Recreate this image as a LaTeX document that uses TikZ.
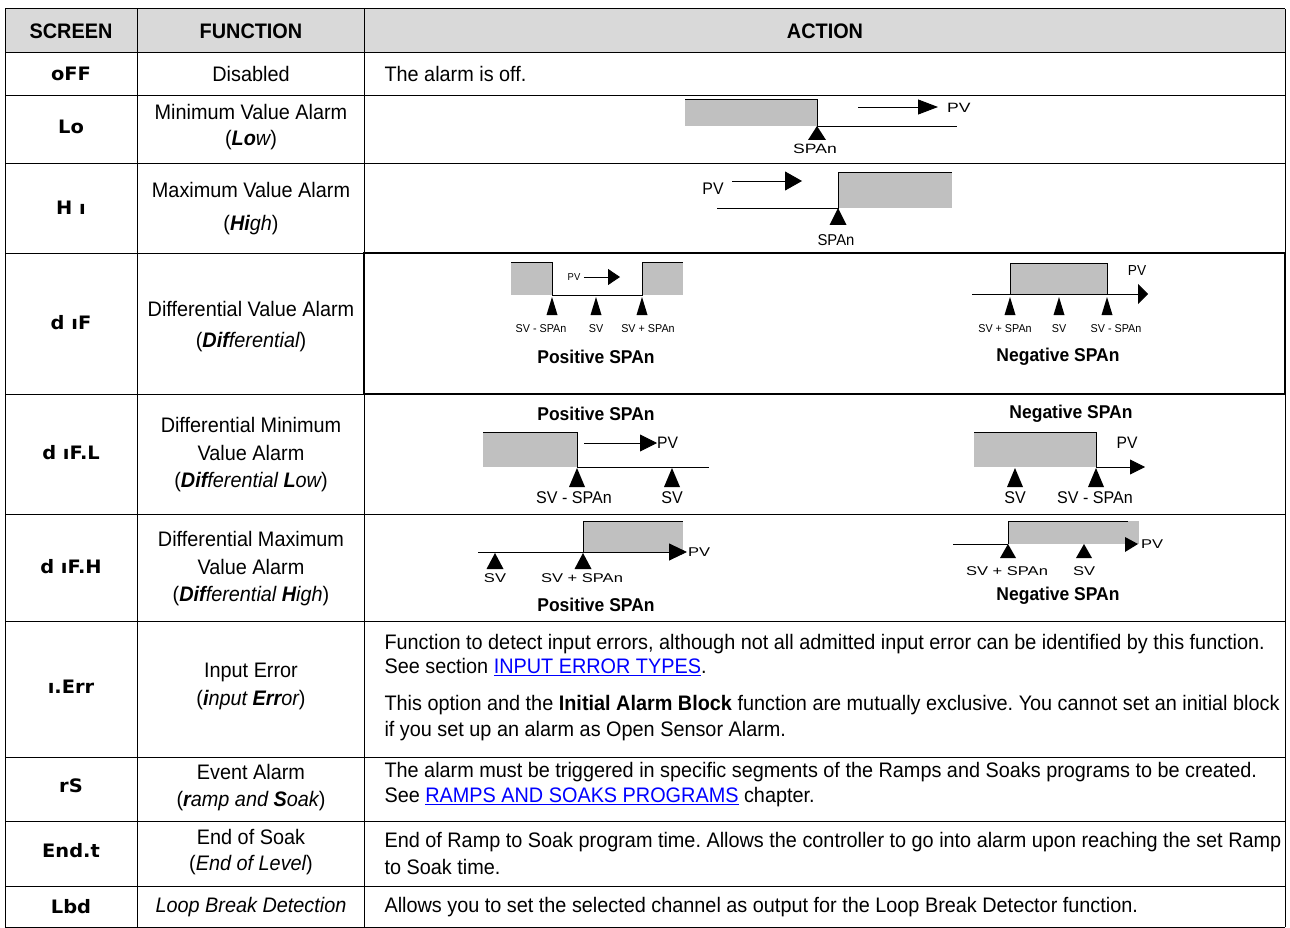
\documentclass[tikz,border=0pt]{standalone}
\usepackage{fontspec}
\setmainfont{Liberation Sans}[FakeStretch=0.945]
\newfontfamily\wider{Liberation Sans}[FakeStretch=1.3]
\newfontfamily\seg{DejaVu Sans}[FakeStretch=1.05]
\usetikzlibrary{arrows.meta}
\definecolor{hdr}{HTML}{D9D9D9}
\definecolor{gr}{HTML}{C0C0C0}
\definecolor{lnk}{HTML}{0000FF}
\frenchspacing
\newcommand\bodyf{\fontsize{21}{24}\selectfont}
\newcommand\fs[1]{\fontsize{#1}{#1}\selectfont}
\newcommand\mkr[4]{\fill (#1,#2) -- ++(-#3/2,#4) -- ++(#3,0) -- cycle;}
\newcommand\lk[1]{\textcolor{lnk}{\underline{#1}}}
\newcommand\bi[1]{{\bfseries\itshape #1}}
\newcommand\ii[1]{{\itshape #1}}
\begin{document}
\begin{tikzpicture}[x=1pt,y=-1pt,
  grid/.style={line width=1pt},
  dl/.style={line width=0.9pt},
  hd/.style={font=\bodyf\bfseries},
  scr/.style={font=\seg\fs{18.5}\bfseries},
  fn/.style={font=\bodyf},
  ac/.style={font=\bodyf,anchor=west},
  lb/.style={font=\fs{11.4}},
  lbw/.style={font=\wider\fs{12.7}},
  lbm/.style={font=\fs{17}},
  sp/.style={font=\fs{18.5}\bfseries},
]
\useasboundingbox (0,0) rectangle (1290,928);
\fill[white] (0,0) rectangle (1290,928);
% header
\fill[hdr] (5,9) rectangle (1285,53);
\node[hd] (h1) at (71,31) {SCREEN};
\node[hd] (h2) at (251,31) {FUNCTION};
\node[hd] (h3) at (825,31) {ACTION};
% grid
\foreach \yy in {9,53,96,164,253,394,514,621,757,821,886,927}
  \draw[grid] (5,\yy) -- (1285,\yy);
\foreach \xx in {5,137,364,1285}
  \draw[grid] (\xx,9) -- (\xx,927);
\draw[line width=2.2pt] (364,253) rectangle (1285,394);
% screen column
\node[scr] (s1) at (71,74) {oFF};
\node[scr] (s2) at (71,127) {Lo};
\node[scr] (s3) at (71,208) {H ı};
\node[scr] (s4) at (71,323) {d ıF};
\node[scr] (s5) at (71,453) {d ıF.L};
\node[scr] (s6) at (71,567) {d ıF.H};
\node[scr] (s7) at (71,687) {ı.Err};
\node[scr] (s8) at (71,786) {rS};
\node[scr] (s9) at (71,851) {End.t};
\node[scr] (s10) at (71,907) {Lbd};
% function column
\node[fn] (f1) at (251,74) {Disabled};
\node[fn] (f2a) at (251,112) {Minimum Value Alarm};
\node[fn] (f2b) at (251,140) {(\bi{Lo}\ii{w})};
\node[fn] (f3a) at (251,190) {Maximum Value Alarm};
\node[fn] (f3b) at (251,225) {(\bi{Hi}\ii{gh})};
\node[fn] (f4a) at (251,309) {Differential Value Alarm};
\node[fn] (f4b) at (251,342) {(\bi{Dif}\ii{ferential})};
\node[fn] (f5a) at (251,425) {Differential Minimum};
\node[fn] (f5b) at (251,453) {Value Alarm};
\node[fn] (f5c) at (251,482) {(\bi{Dif}\ii{ferential }\bi{L}\ii{ow})};
\node[fn] (f6a) at (251,539) {Differential Maximum};
\node[fn] (f6b) at (251,567) {Value Alarm};
\node[fn] (f6c) at (251,596) {(\bi{Dif}\ii{ferential }\bi{H}\ii{igh})};
\node[fn] (f7a) at (251,672) {Input Error};
\node[fn] (f7b) at (251,700) {(\bi{i}\ii{nput }\bi{Err}\ii{or})};
\node[fn] (f8a) at (251,772) {Event Alarm};
\node[fn] (f8b) at (251,801) {(\bi{r}\ii{amp and }\bi{S}\ii{oak})};
\node[fn] (f9a) at (251,837) {End of Soak};
\node[fn] (f9b) at (251,865) {(\ii{End of Level})};
\node[fn] (f10) at (251,907) {\ii{Loop Break Detection}};
% action texts
\node[ac] (a1) at (381,74) {The alarm is off.};
\node[ac] (a7a) at (381,644) {Function to detect input errors, although not all admitted input error can be identified by this function.};
\node[ac] (a7b) at (381,667) {See section \lk{INPUT ERROR TYPES}.};
\node[ac] (a7c) at (381,705) {This option and the \textbf{Initial Alarm Block} function are mutually exclusive. You cannot set an initial block};
\node[ac] (a7d) at (381,731) {if you set up an alarm as Open Sensor Alarm.};
\node[ac] (a8a) at (381,772) {The alarm must be triggered in specific segments of the Ramps and Soaks programs to be created.};
\node[ac] (a8b) at (381,797) {See \lk{RAMPS AND SOAKS PROGRAMS} chapter.};
\node[ac] (a9a) at (381,842) {End of Ramp to Soak program time. Allows the controller to go into alarm upon reaching the set Ramp};
\node[ac] (a9b) at (381,867) {to Soak time.};
\node[ac] (a10) at (381,907) {Allows you to set the selected channel as output for the Loop Break Detector function.};
% ---- Lo diagram
\fill[gr] (685,99) rectangle (817,126);
\draw[dl] (685,99) -- (817,99) -- (817,126) -- (957,126);
\mkr{817}{126}{18}{14}
\node[font=\wider\fs{13.5}] (loS) at (815,149) {SPAn};
\node[font=\wider\fs{13.5},anchor=west,inner sep=0pt] (loPV) at (947,108) {PV};
\coordinate (loA) at (858,107);
\coordinate (loB) at (938,107);
\draw[dl,-{Triangle[length=20pt,width=15pt]}] (loA) -- (loB);
% ---- Hi diagram
\node[font=\fs{16.8}] (hiPV) at (713,189) {PV};
\coordinate (hiA) at (732,181);
\coordinate (hiB) at (802,181);
\draw[dl,-{Triangle[length=17pt,width=19pt]}] (hiA) -- (hiB);
\fill[gr] (838,172) rectangle (952,208);
\draw[dl] (717,208) -- (838,208) -- (838,172) -- (952,172);
\mkr{838}{208}{17}{17}
\node[font=\fs{15.7}] (hiS) at (836,240) {SPAn};
% ---- dIF positive
\fill[gr] (511,262) rectangle (552,295);
\fill[gr] (642,262) rectangle (683,295);
\draw[dl] (511,262) -- (552,262) -- (552,295) -- (642,295) -- (642,262) -- (683,262);
\node[font=\fs{10}] (dpPV) at (574,277) {PV};
\coordinate (dpA) at (620,277);
\draw[dl,-{Triangle[length=12pt,width=16pt]}] (dpPV.east) -- (dpA);
\mkr{552}{297}{11}{18}
\mkr{596}{297}{11}{18}
\mkr{642}{297}{11}{18}
\node[lb] (dp1) at (541,329) {SV - SPAn};
\node[lb] (dp2) at (596,329) {SV};
\node[lb] (dp3) at (648,329) {SV + SPAn};
\node[sp] (dpT) at (596,357) {Positive SPAn};
% ---- dIF negative
\fill[gr] (1010,263) rectangle (1107,294);
\draw[dl] (1010,294) -- (1010,263) -- (1107,263) -- (1107,294);
\coordinate (dnL) at (972,294);
\coordinate (dnR) at (1148,294);
\draw[dl,-{Triangle[length=10pt,width=20pt]}] (dnL) -- (dnR);
\node[font=\fs{14.5}] (dnPV) at (1137,271) {PV};
\mkr{1010}{297}{11}{18}
\mkr{1059}{297}{11}{18}
\mkr{1107}{297}{11}{18}
\node[lb] (dn1) at (1005,329) {SV + SPAn};
\node[lb] (dn2) at (1059,329) {SV};
\node[lb] (dn3) at (1116,329) {SV - SPAn};
\node[sp] (dnT) at (1058,357) {Negative SPAn};
% ---- dIF.L positive
\node[sp] (lpT) at (596,414) {Positive SPAn};
\fill[gr] (483,432) rectangle (577,467);
\draw[dl] (483,432) -- (577,432) -- (577,467) -- (709,467);
\node[font=\fs{16.6},anchor=west,inner sep=0pt] (lpPV) at (657,443) {PV};
\coordinate (lpA) at (584,443);
\draw[dl,-{Triangle[length=17pt,width=17pt]}] (lpA) -- (lpPV.west);
\mkr{577}{468}{16}{19}
\mkr{672}{468}{16}{19}
\node[lbm] (lp1) at (574,498) {SV - SPAn};
\node[lbm] (lp2) at (672,498) {SV};
% ---- dIF.L negative
\node[sp] (lnT) at (1071,414) {Negative SPAn};
\fill[gr] (974,432) rectangle (1096,467);
\draw[dl] (974,432) -- (1096,432) -- (1096,467);
\coordinate (lnA) at (1096,467);
\coordinate (lnB) at (1145,467);
\draw[dl,-{Triangle[length=15pt,width=15pt]}] (lnA) -- (lnB);
\node[font=\fs{16.6}] (lnPV) at (1127,443) {PV};
\mkr{1015}{468}{16}{19}
\mkr{1096}{468}{16}{19}
\node[lbm] (ln1) at (1015,498) {SV};
\node[lbm] (ln2) at (1095,498) {SV - SPAn};
% ---- dIF.H positive
\fill[gr] (583,521) rectangle (683,552);
\draw[dl] (583,552) -- (583,521) -- (683,521);
\node[lbw,anchor=west,inner sep=0pt] (hpPV) at (688,552) {PV};
\coordinate (hpL) at (478,552);
\coordinate (hpR) at (687,552);
\draw[dl,-{Triangle[length=18pt,width=17pt]}] (hpL) -- (hpR);
\mkr{495}{553}{17}{16}
\mkr{583}{553}{17}{16}
\node[lbw] (hp1) at (495,578) {SV};
\node[lbw] (hp2) at (582,578) {SV + SPAn};
\node[sp] (hpT) at (596,605) {Positive SPAn};
% ---- dIF.H negative
\fill[gr] (1008,521) rectangle (1139,544);
\draw[dl] (1008,544) -- (1008,521) -- (1128,521);
\coordinate (hnL) at (953,544);
\coordinate (hnM) at (1008,544);
\draw[dl] (hnL) -- (hnM);
\fill (1125,537) -- (1138,544) -- (1125,552) -- cycle;
\node[lbw] (hnPV) at (1152,544) {PV};
\mkr{1008}{544}{16}{14}
\mkr{1084}{544}{16}{14}
\node[lbw] (hn1) at (1007,571) {SV + SPAn};
\node[lbw] (hn2) at (1084,571) {SV};
\node[sp] (hnT) at (1058,596) {Negative SPAn};
\end{tikzpicture}
\end{document}
